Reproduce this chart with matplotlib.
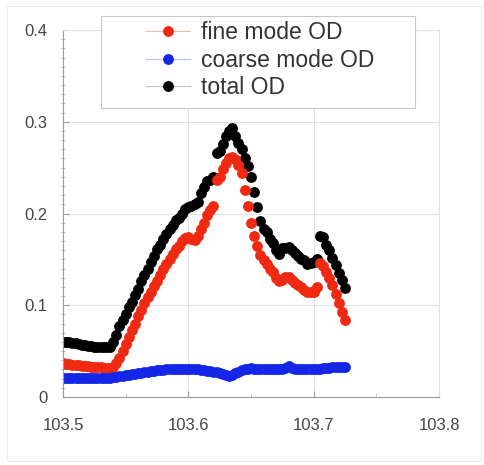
import numpy as np
import matplotlib
matplotlib.use("Agg")
import matplotlib.pyplot as plt
from matplotlib.lines import Line2D
from matplotlib.patches import Rectangle

plt.rcParams['font.family'] = ['Liberation Sans', 'DejaVu Sans']

# longitude samples (deg)
lon = [103.5000, 103.5025, 103.5050, 103.5075, 103.5100, 103.5125, 103.5150, 103.5175,
       103.5200, 103.5225, 103.5250, 103.5275, 103.5300, 103.5325, 103.5350, 103.5375,
       103.5400, 103.5425, 103.5450, 103.5475, 103.5500, 103.5525, 103.5550, 103.5575,
       103.5600, 103.5625, 103.5650, 103.5675, 103.5700, 103.5725, 103.5750, 103.5775,
       103.5800, 103.5825, 103.5850, 103.5875, 103.5900, 103.5925, 103.5950, 103.5975,
       103.6000, 103.6025, 103.6050, 103.6075, 103.6100, 103.6125, 103.6150, 103.6175,
       103.6200, 103.6225, 103.6250, 103.6275, 103.6300, 103.6325, 103.6350, 103.6375,
       103.6400, 103.6425, 103.6450, 103.6475, 103.6500, 103.6525, 103.6550, 103.6575,
       103.6600, 103.6625, 103.6650, 103.6675, 103.6700, 103.6725, 103.6750, 103.6775,
       103.6800, 103.6825, 103.6850, 103.6875, 103.6900, 103.6925, 103.6950, 103.6975,
       103.7000, 103.7025, 103.7050, 103.7075, 103.7100, 103.7125, 103.7150, 103.7175,
       103.7200, 103.7225, 103.7250]

total_od = [0.060, 0.060, 0.060, 0.059, 0.059, 0.058, 0.057, 0.057,
            0.056, 0.056, 0.055, 0.055, 0.055, 0.054, 0.054, 0.055,
            0.060, 0.068, 0.077, 0.084, 0.091, 0.098, 0.104, 0.111,
            0.118, 0.126, 0.133, 0.140, 0.147, 0.154, 0.161, 0.166,
            0.172, 0.178, 0.183, 0.188, 0.193, 0.195, 0.199, 0.205,
            0.207, 0.208, 0.210, 0.213, 0.222, 0.229, 0.235, 0.236,
            0.240, 0.266, 0.268, 0.276, 0.284, 0.290, 0.293, 0.285,
            0.277, 0.270, 0.260, 0.252, 0.240, 0.224, 0.207, 0.192,
            0.183, 0.180, 0.172, 0.168, 0.160, 0.156, 0.162, 0.162,
            0.164, 0.160, 0.157, 0.154, 0.150, 0.149, 0.145, 0.146,
            0.147, 0.150, 0.176, 0.174, 0.166, 0.160, 0.152, 0.144,
            0.135, 0.128, 0.119]

fine_od = [0.037, 0.036, 0.036, 0.035, 0.035, 0.035, 0.034, 0.034,
           0.034, 0.033, 0.033, 0.033, 0.033, 0.032, 0.032, 0.032,
           0.033, 0.037, 0.043, 0.050, 0.058, 0.065, 0.073, 0.080,
           0.088, 0.095, 0.102, 0.109, 0.115, 0.121, 0.127, 0.133,
           0.139, 0.145, 0.150, 0.156, 0.161, 0.165, 0.170, 0.173,
           0.174, 0.172, 0.171, 0.176, 0.183, 0.190, 0.198, 0.204,
           0.208, 0.236, 0.240, 0.248, 0.255, 0.260, 0.262, 0.259,
           0.253, 0.244, 0.226, 0.208, 0.190, 0.176, 0.165, 0.155,
           0.149, 0.145, 0.140, 0.136, 0.130, 0.127, 0.128, 0.131,
           0.131, 0.128, 0.124, 0.122, 0.120, 0.117, 0.115, 0.114,
           0.114, 0.120, 0.146, 0.143, 0.136, 0.130, 0.122, 0.112,
           0.102, 0.093, 0.084]

coarse_od = [0.021, 0.021, 0.021, 0.021, 0.021, 0.021, 0.021, 0.021,
             0.021, 0.021, 0.021, 0.021, 0.021, 0.021, 0.021, 0.021,
             0.022, 0.022, 0.023, 0.023, 0.024, 0.024, 0.025, 0.025,
             0.026, 0.026, 0.027, 0.027, 0.028, 0.028, 0.029, 0.029,
             0.029, 0.030, 0.030, 0.031, 0.031, 0.030, 0.031, 0.031,
             0.031, 0.031, 0.030, 0.030, 0.029, 0.029, 0.028, 0.028,
             0.027, 0.027, 0.026, 0.025, 0.024, 0.023, 0.024, 0.026,
             0.027, 0.029, 0.030, 0.031, 0.032, 0.031, 0.031, 0.030,
             0.031, 0.031, 0.030, 0.031, 0.031, 0.030, 0.031, 0.032,
             0.034, 0.032, 0.031, 0.030, 0.030, 0.030, 0.030, 0.030,
             0.030, 0.031, 0.031, 0.032, 0.032, 0.032, 0.033, 0.033,
             0.033, 0.033, 0.033]

red = '#f02a12'
blue = '#1426e6'
black = '#000000'
ms = 7.8

fig = plt.figure(figsize=(4.85, 4.65), dpi=100)
ax = fig.add_axes([0.1299, 0.1462, 0.7753, 0.7892])

ax.plot(lon, total_od, 'o', color=black, ms=ms, mew=0)
ax.plot(lon, fine_od, 'o', color=red, ms=ms, mew=0)
ax.plot(lon, coarse_od, 'o', color=blue, ms=ms, mew=0)

ax.set_xlim(103.5, 103.8)
ax.set_ylim(0, 0.4)
ax.set_xticks([103.5, 103.6, 103.7, 103.8])
ax.set_xticklabels(['103.5', '103.6', '103.7', '103.8'])
ax.set_xticks([103.55, 103.65, 103.75], minor=True)
ax.set_yticks([0, 0.1, 0.2, 0.3, 0.4])
ax.set_yticklabels(['0', '0.1', '0.2', '0.3', '0.4'])
ax.set_yticks(np.arange(0, 0.401, 0.01), minor=True)

ax.grid(True, which='major', color='#e2e2e2', lw=0.8)
ax.set_axisbelow(True)
for s in ['top', 'right']:
    ax.spines[s].set_color('#e2e2e2')
for s in ['left', 'bottom']:
    ax.spines[s].set_color('#9a9a9a')
    ax.spines[s].set_linewidth(0.8)

ax.tick_params(axis='both', which='major', labelsize=12, labelcolor='#444444',
               color='#9a9a9a', direction='in', length=4)
ax.tick_params(axis='y', which='major', pad=11)
ax.tick_params(axis='x', which='major', pad=15)
ax.tick_params(axis='y', which='minor', direction='inout', length=3, color='#b0b0b0')
ax.tick_params(axis='x', which='minor', direction='in', length=3, color='#c0c0c0')

# legend box
fig.patches.append(Rectangle((101 / 485, 1 - 108 / 465), 314 / 485, 92 / 465,
                             transform=fig.transFigure, facecolor='white',
                             edgecolor='#c8c8c8', lw=0.8, zorder=3))
handles = [Line2D([], [], color='#f3b8b0', lw=0.8, marker='o', ms=ms, mfc=red, mec=red, mew=0),
           Line2D([], [], color='#b8bdf3', lw=0.8, marker='o', ms=ms, mfc=blue, mec=blue, mew=0),
           Line2D([], [], color='#c0c0c0', lw=0.8, marker='o', ms=ms, mfc=black, mec=black, mew=0)]
leg = fig.legend(handles, ['fine mode OD', 'coarse mode OD', 'total OD'],
                 loc='upper left', bbox_to_anchor=(146 / 485, 1 - 21 / 465),
                 frameon=False, borderpad=0, borderaxespad=0, fontsize=16.5,
                 handlelength=1.92, handletextpad=0.5, labelspacing=0.2)
for t in leg.get_texts():
    t.set_color('#333333')
leg.set_zorder(4)

# faint outer border
fig.patches.append(Rectangle((7 / 485, 4 / 465), 474 / 485, 455 / 465,
                             transform=fig.transFigure, fill=False,
                             edgecolor='#ececec', lw=0.8))

fig.savefig('out.png', dpi=100)
